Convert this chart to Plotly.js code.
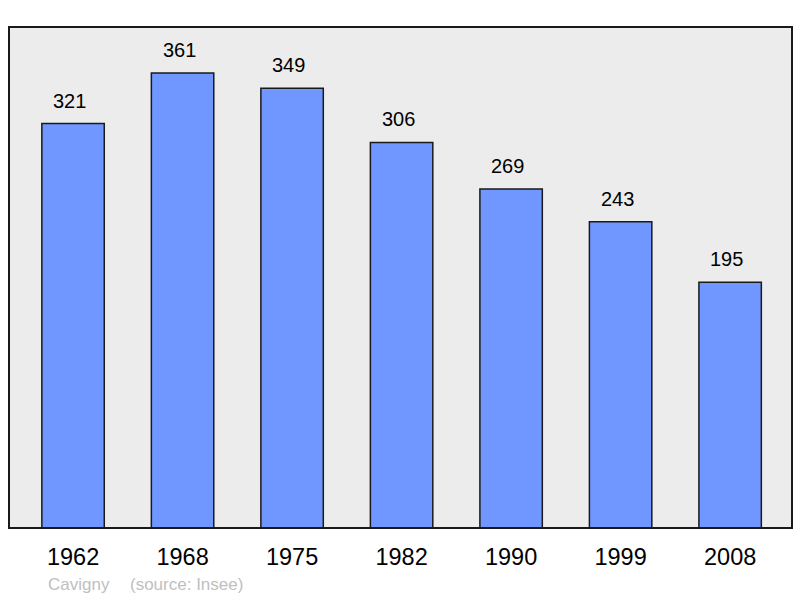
<!DOCTYPE html>
<html><head><meta charset="utf-8">
<script src="https://cdn.plot.ly/plotly-3.0.1.min.js"></script>
<style>body{margin:0;background:#fff}#c{width:800px;height:598px}</style>
</head><body><div id="c"></div>
<script>
const years = ["1962","1968","1975","1982","1990","1999","2008"];
const population = [321,361,349,306,269,243,195];
const idx = years.map((_, i) => i);

const trace = {
  type: "bar", x: idx, y: population, width: 0.57,
  marker: {color: "#7097ff", line: {color: "#1a1a1a", width: 1.5}},
  hoverinfo: "none"
};
const F = "Liberation Sans, Arial";
const annotations = population.map((v, i) => ({
  x: i, y: v, xref: "x", yref: "y", text: String(v), showarrow: false,
  yshift: 23, xshift: -3.5, font: {family: F, size: 20, color: "#000"}
}));
annotations.push({
  xref: "paper", yref: "paper", x: 0.047, y: -0.112, xanchor: "left", yanchor: "middle",
  text: "Cavigny", showarrow: false, font: {family: F, size: 17, color: "#c0c0c0"}
});
annotations.push({
  xref: "paper", yref: "paper", x: 0.1515, y: -0.112, xanchor: "left", yanchor: "middle",
  text: "(source: Insee)", showarrow: false, font: {family: F, size: 17, color: "#c0c0c0"}
});
const layout = {
  width: 800, height: 598,
  margin: {l: 9, r: 8, t: 27, b: 70},
  paper_bgcolor: "#fff", plot_bgcolor: "#ececec",
  showlegend: false,
  xaxis: {range: [-0.585, 6.565], tickvals: idx, ticktext: years, showgrid: false, zeroline: false,
    ticks: "", ticklabelstandoff: 12, tickfont: {family: F, size: 23.5, color: "#000"}},
  yaxis: {range: [0, 397.6], showgrid: false, zeroline: false, showticklabels: false, ticks: ""},
  shapes: [{type: "rect", xref: "paper", yref: "paper", x0: 0, x1: 1, y0: 0, y1: 1,
    line: {color: "#1a1a1a", width: 2}, layer: "above"}],
  annotations: annotations
};
Plotly.newPlot("c", [trace], layout, {staticPlot: true, displayModeBar: false});
</script></body></html>
